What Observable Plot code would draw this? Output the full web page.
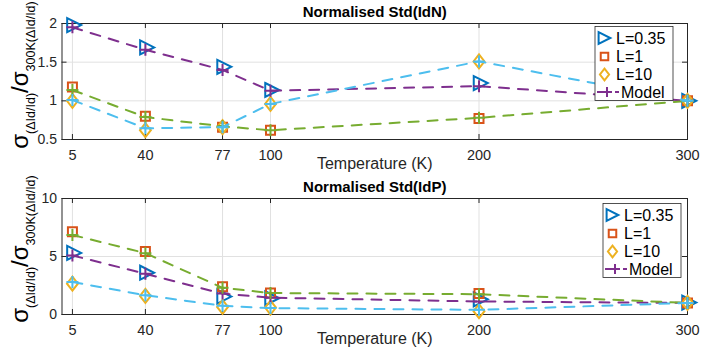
<!DOCTYPE html>
<html><head><meta charset="utf-8">
<script src="https://cdn.jsdelivr.net/npm/d3@7"></script>
<script src="https://cdn.jsdelivr.net/npm/@observablehq/plot@0.6"></script>
<style>
body{margin:0;background:#fff;}
#chart{width:725px;height:354px;}
svg{display:block;}
</style></head><body><div id="chart"></div>
<script>
// ---- data ----
const temps = [5, 40, 77, 100, 200, 300];
const seriesNames = ["L=0.35", "L=1", "L=10", "Model"];

// Normalised Std(IdN)
const idnL035 = [1.98, 1.69, 1.44, 1.14, 1.23, 1.0];
const idnL1   = [1.18, 0.80, 0.66, 0.62, 0.77, 1.0];
const idnL10  = [1.00, 0.62, 0.66, 0.96, 1.51, 1.0];
const idnModel035 = [1.95, 1.66, 1.40, 1.13, 1.19, 1.0];
const idnModel1   = [1.14, 0.79, 0.67, 0.62, 0.78, 1.0];
const idnModel10  = [1.01, 0.645, 0.66, 0.96, 1.51, 1.0];
const idnTicks = [0.5, 1, 1.5, 2];

// Normalised Std(IdP)
const idpL035 = [5.31, 3.60, 1.55, 1.40, 1.31, 1.03];
const idpL1   = [7.14, 5.43, 2.40, 1.85, 1.80, 1.0];
const idpL10  = [2.66, 1.60, 0.65, 0.60, 0.29, 1.0];
const idpModel035 = [5.09, 3.51, 1.80, 1.45, 1.12, 1.0];
const idpModel1   = [6.86, 5.29, 2.30, 1.85, 1.75, 1.0];
const idpModel10  = [2.80, 1.66, 0.75, 0.55, 0.40, 1.0];
const idpTicks = [0, 5, 10];

// ---- styles ----
const C = {blue:"#0072BD", orange:"#D95319", yellow:"#EDB120", purple:"#7E2F8E", green:"#77AC30", cyan:"#4DBEEE"};
const ink = "#262626";
const font = "'Liberation Sans', Arial, Helvetica, sans-serif";

const triRight = {draw(c,s){const r=Math.sqrt(s/Math.PI); c.moveTo(-0.75*r,-r); c.lineTo(1.25*r,0); c.lineTo(-0.75*r,r); c.closePath();}};
const square = {draw(c,s){const r=Math.sqrt(s/Math.PI); c.moveTo(-r,-r); c.lineTo(r,-r); c.lineTo(r,r); c.lineTo(-r,r); c.closePath();}};
const diamond = {draw(c,s){const r=Math.sqrt(s/Math.PI); c.moveTo(0,-r); c.lineTo(0.78*r,0); c.lineTo(0,r); c.lineTo(-0.78*r,0); c.closePath();}};
const plus = {draw(c,s){const r=Math.sqrt(s/Math.PI); c.moveTo(-r,0); c.lineTo(r,0); c.moveTo(0,-r); c.lineTo(0,r);}};

const W = 725, H = 177;
const rows = arr => temps.map((t,i)=>({t, v: arr[i]}));

function chart({title, yDomain, yTicks, meas, models, mt, mb, legendX, labelCy}) {
  const ml = 61.5, mr = 38;
  const innerH = H - mt - mb, innerW = W - ml - mr;
  const marks = [
    Plot.ruleX(temps, {x: d=>d, stroke:"#e1e1e1", strokeWidth:1}),
    Plot.ruleY(yTicks, {y: d=>d, stroke:"#e1e1e1", strokeWidth:1}),
    Plot.frame({stroke: ink, strokeWidth: 1}),
    Plot.tickX(temps, {x: d=>d, insetTop: innerH-5, stroke: ink}),
    Plot.tickX(temps, {x: d=>d, insetBottom: innerH-5, stroke: ink}),
    Plot.tickY(yTicks, {y: d=>d, insetRight: innerW-5, stroke: ink}),
    Plot.tickY(yTicks, {y: d=>d, insetLeft: innerW-5, stroke: ink}),
    Plot.axisX({ticks: temps, tickSize: 0, tickPadding: 10, tickFormat: d=>String(d), label: null, fontSize: 14.5}),
    Plot.axisY({ticks: yTicks, tickSize: 0, tickPadding: 5, tickFormat: d=>String(d), label: null, fontSize: 14}),
    Plot.text([title], {frameAnchor:"top", lineAnchor:"middle", dy:-11, fontWeight:"bold", fontSize:15, fill:"#000"}),
    Plot.text(["Temperature (K)"], {frameAnchor:"bottom", lineAnchor:"middle", dy:24.5, fontSize:16, fill: ink})
  ];
  const syms = [triRight, square, diamond];
  const symR = [7, 4.5, 7];
  const mcol = [C.blue, C.orange, C.yellow];
  meas.forEach((arr,i)=>{
    marks.push(Plot.dot(rows(arr), {x:"t", y:"v", symbol: syms[i], r: symR[i], stroke: mcol[i], fill:"none", strokeWidth:2}));
  });
  const lcol = [C.purple, C.green, C.cyan];
  models.forEach((arr,i)=>{
    marks.push(Plot.line(rows(arr), {x:"t", y:"v", stroke: lcol[i], strokeWidth:2, strokeDasharray:"10,9"}));
    marks.push(Plot.dot(rows(arr), {x:"t", y:"v", symbol: plus, r: 6, stroke: lcol[i], strokeWidth:2}));
  });
  const svg = Plot.plot({
    width: W, height: H,
    marginLeft: ml, marginRight: mr, marginTop: mt, marginBottom: mb,
    style: {fontFamily: font, color: ink, background: "#fff", overflow: "visible"},
    x: {type:"linear", domain:[0,300]},
    y: {type:"linear", domain: yDomain},
    marks
  });
  const s = d3.select(svg);
  // y label with subscripts
  const t = s.append("text")
    .attr("transform", `translate(28,${labelCy}) rotate(-90)`)
    .attr("text-anchor","middle").attr("fill","#000")
    .attr("font-family", font).attr("font-size", 24);
  t.append("tspan").text("σ");
  t.append("tspan").attr("font-size",12.5).attr("dy",6.5).text("(ΔId/Id)");
  t.append("tspan").attr("dy",-6.5).text("/");
  t.append("tspan").text("σ");
  t.append("tspan").attr("font-size",12.5).attr("dy",6.5).text("300K(ΔId/Id)");
  // legend
  const x0 = legendX, y0 = 26.5;
  const g = s.append("g").attr("font-family", font).attr("font-size", 16).attr("text-anchor","start");
  g.append("rect").attr("x",x0).attr("y",y0).attr("width",78).attr("height",74)
    .attr("fill","#fff").attr("stroke",ink).attr("stroke-width",0.8);
  const ey = [11.5, 30, 48, 65.5];
  const symX = [8, 9.5, 9.5];
  [0,1,2].forEach(i=>{
    g.append("path").attr("d", d3.symbol(syms[i], Math.PI*symR[i]*symR[i]*0.7)())
      .attr("transform",`translate(${x0+symX[i]},${y0+ey[i]})`)
      .attr("fill","none").attr("stroke",mcol[i]).attr("stroke-width",2);
    g.append("text").attr("x",x0+21).attr("y",y0+ey[i]).attr("dy","0.35em").attr("fill","#000").text(seriesNames[i]);
  });
  g.append("line").attr("x1",x0+2).attr("x2",x0+24).attr("y1",y0+ey[3]).attr("y2",y0+ey[3])
    .attr("stroke",C.purple).attr("stroke-width",2).attr("stroke-dasharray","5,4");
  g.append("path").attr("d", d3.symbol(plus, Math.PI*25)())
    .attr("transform",`translate(${x0+12},${y0+ey[3]})`)
    .attr("fill","none").attr("stroke",C.purple).attr("stroke-width",2);
  g.append("text").attr("x",x0+26).attr("y",y0+ey[3]).attr("dy","0.35em").attr("fill","#000").text(seriesNames[3]);
  return svg;
}

const root = document.getElementById("chart");
root.appendChild(chart({title:"Normalised Std(IdN)", yDomain:[0.5,2], yTicks: idnTicks,
  meas:[idnL035, idnL1, idnL10], models:[idnModel035, idnModel1, idnModel10], mt:23, mb:38, legendX:595, labelCy:75}));
root.appendChild(chart({title:"Normalised Std(IdP)", yDomain:[0,10], yTicks: idpTicks,
  meas:[idpL035, idpL1, idpL10], models:[idpModel035, idpModel1, idpModel10], mt:21, mb:40, legendX:603, labelCy:72}));
</script></body></html>
